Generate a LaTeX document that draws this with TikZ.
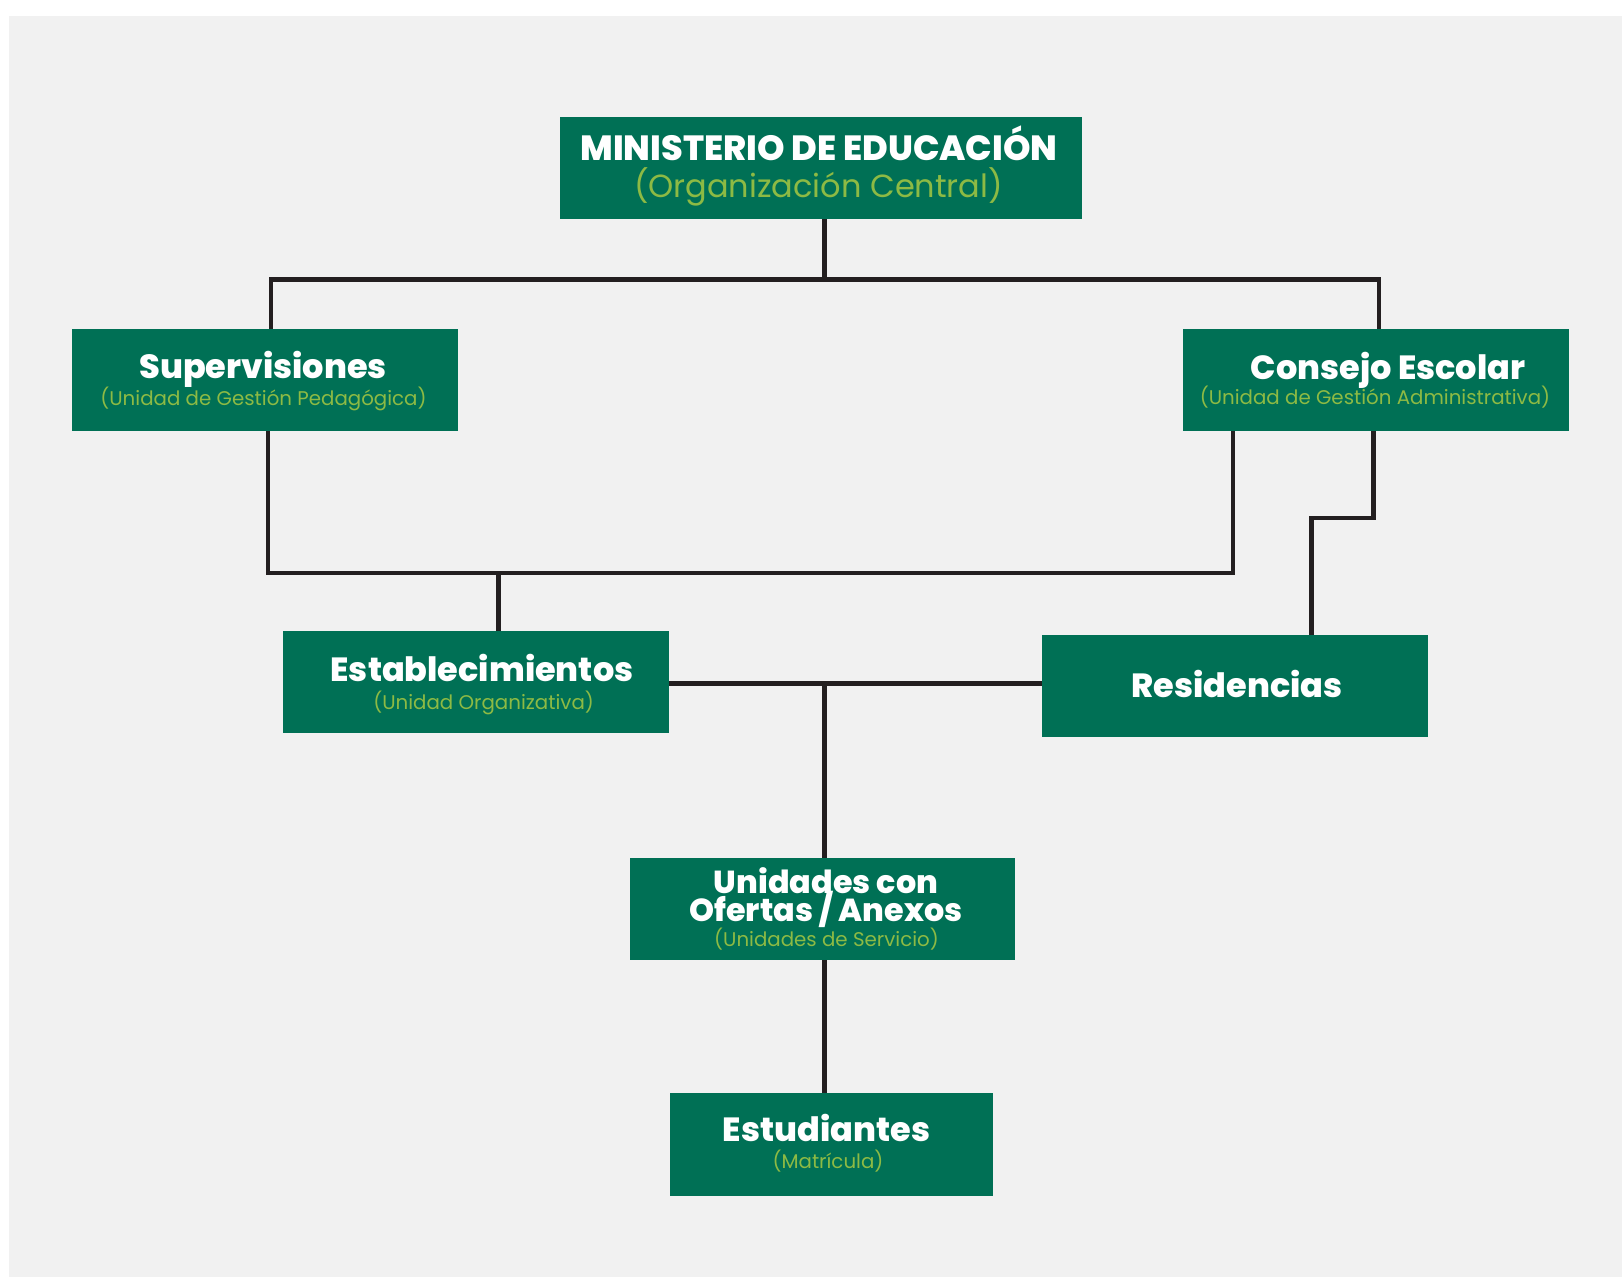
\documentclass[tikz,border=0pt]{standalone}
\usepackage{fontspec}
\setmainfont{Poppins}
\newfontfamily\popxb{Poppins ExtraBold}
\definecolor{boxgreen}{HTML}{007055}
\definecolor{subgreen}{HTML}{8DBA44}
\definecolor{linecol}{HTML}{231F20}
\definecolor{bggrey}{HTML}{F1F1F1}
\begin{document}
\begin{tikzpicture}[x=1pt,y=-1pt,
  orgbox/.style={fill=boxgreen,draw=none,inner sep=0pt,minimum height=102.4pt},
  ttl/.style={text=white,font=\popxb\fontsize{33.5}{33.5}\selectfont,anchor=mid,inner sep=0pt},
  ttlb/.style={text=white,font=\popxb\fontsize{31.8}{28}\selectfont,anchor=base,inner sep=0pt},
  sub/.style={text=subgreen,font=\fontsize{19.8}{19.8}\selectfont,anchor=mid,inner sep=0pt},
  conn/.style={draw=linecol,line width=4.5pt,line cap=rect}]
\useasboundingbox (0,0) rectangle (1622,1277);
\fill[white] (0,0) rectangle (1622,1277);
\fill[bggrey] (9,16) rectangle (1622,1277);

% coordinates for connector joints
\coordinate (tm) at (824.5,279.3);
\coordinate (tl) at (271,279.3);
\coordinate (tr) at (1379,279.3);
\coordinate (ml) at (268,573);
\coordinate (mr) at (1233,573);
\coordinate (me) at (498.6,573);
\coordinate (ra) at (1373.7,518.2);
\coordinate (rb) at (1311.6,518.2);
\coordinate (hc) at (824.5,683.7);

% connectors (drawn first, boxes on top)
\draw[conn] (tm) -- (tm |- 219,219);
\draw[conn] (tl |- 330,330) -- (tl) -- (tr) -- (tr |- 330,330);
\draw[conn] (ml |- 430,430) -- (ml) -- (mr) -- (mr |- 430,430);
\draw[conn] (me) -- (me |- 632,632);
\draw[conn] (ra |- 430,430) -- (ra) -- (rb) -- (rb |- 636,636);
\draw[conn] (669,683.7) -- (1042,683.7);
\draw[conn] (hc) -- (hc |- 858,858);
\draw[conn] (824.5,959) -- (824.5,1094);

% boxes
\node[orgbox,minimum width=522.4pt] (min) at (820.8,168.1) {};
\node[orgbox,minimum width=385.8pt] (sup) at (265.3,380.2) {};
\node[orgbox,minimum width=385.8pt] (cons) at (1376.3,380.2) {};
\node[orgbox,minimum width=385.9pt] (est) at (476.4,682.2) {};
\node[orgbox,minimum width=385.8pt,minimum height=101.4pt] (res) at (1234.6,685.8) {};
\node[orgbox,minimum width=384.8pt] (uni) at (822.4,908.8) {};
\node[orgbox,minimum width=322.7pt] (estu) at (831.7,1144.6) {};

% texts
\node[ttl,font=\popxb\fontsize{35}{35}\selectfont] (minT) at (819,158) {MINISTERIO DE EDUCACIÓN};
\node[sub,font=\fontsize{32}{32}\selectfont] (minS) at (818.5,195) {(Organización Central)};
\node[ttl] (supT) at (263,376) {Supervisiones};
\node[sub] (supS) at (263.5,403) {(Unidad de Gestión Pedagógica)};
\node[ttl] (consT) at (1388,377) {Consejo Escolar};
\node[sub] (consS) at (1375,402) {(Unidad de Gestión Administrativa)};
\node[ttl] (estT) at (482,679) {Establecimientos};
\node[sub] (estS) at (483.6,707) {(Unidad Organizativa)};
\node[ttl] (resT) at (1237,694.5) {Residencias};
\node[ttlb] (uniT) at (826,921.9) {\vbox{\baselineskip=28pt\lineskiplimit=-100pt\lineskip=0pt\halign{\hfil#\hfil\cr Unidades con\cr Ofertas / Anexos\cr}}};
\node[sub] (uniS) at (826.5,943.5) {(Unidades de Servicio)};
\node[ttl] (estuT) at (826.5,1138.5) {Estudiantes};
\node[sub] (estuS) at (828,1166) {(Matrícula)};
\end{tikzpicture}
\end{document}
